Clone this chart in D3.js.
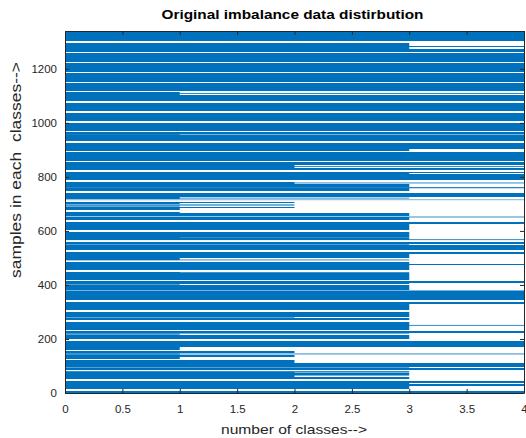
<!DOCTYPE html>
<html>
<head>
<meta charset="utf-8">
<script src="https://cdn.jsdelivr.net/npm/d3@7"></script>
<style>
    body { margin: 0; background: #fff; }
    text { font-family: "Liberation Sans", Arial, Helvetica, sans-serif; }
</style>
</head>
<body>
<svg id="chart" width="526" height="438"></svg>
<script>
// Sample ranges [from, to] whose bars reach each class length
const classes = [1, 2, 3, 4];

const class4Bands = [
    [1303, 1337], [1280, 1286], [1264, 1273], [1227, 1260], [1190, 1222], [1153, 1185],
    [1117, 1148], [1107, 1110], [1080, 1103], [1043, 1075], [1006, 1038], [969, 1001],
    [958, 965], [955, 957], [931, 954], [903, 927], [860, 893], [843, 854], [837, 840],
    [825, 833], [814, 819], [787, 809], [776, 779], [758, 762], [724, 741], [714, 716],
    [650, 653], [624, 633], [566, 569], [553, 559], [529, 549], [514, 522], [472, 477],
    [409, 414], [379, 381], [346, 377], [330, 338], [249, 252], [223, 229], [169, 194],
    [143, 146], [95, 110], [86, 91], [38, 46], [27, 33], [1, 6]
];

const class3Bands = [
    [1286, 1296], [1273, 1280], [896, 903], [809, 814], [762, 774], [749, 758], [720, 723],
    [654, 666], [640, 650], [612, 624], [603, 609], [579, 596], [574, 577], [566, 572],
    [549, 553], [499, 514], [491, 494], [477, 485], [454, 472], [444, 447], [420, 443],
    [404, 409], [383, 401], [309, 330], [283, 301], [272, 279], [234, 264], [220, 223],
    [199, 216], [91, 95], [78, 81], [74, 76], [68, 73], [63, 65], [51, 60], [33, 38], [14, 27]
];

const class2Bands = [
    [833, 843], [774, 781], [703, 708], [694, 698], [685, 690], [279, 283],
    [149, 154], [134, 140], [110, 121], [73, 78], [60, 68]
];

const class1Bands = [
    [1103, 1115], [954, 958], [717, 724], [698, 703], [690, 694], [676, 685], [666, 671],
    [609, 612], [572, 579], [494, 499], [443, 448], [401, 404], [216, 220], [158, 169],
    [146, 149], [140, 143], [125, 134]
];

const xTicks = [0, 0.5, 1, 1.5, 2, 2.5, 3, 3.5, 4];
const yTicks = [0, 200, 400, 600, 800, 1000, 1200];

const bandsByClass = [class1Bands, class2Bands, class3Bands, class4Bands];

const svg = d3.select('#chart');
const plot = { left: 65, right: 524, top: 31, bottom: 393 };
const axisColor = '#262626';
const barColor = '#0072BD';

const x = d3.scaleLinear().domain([0, 4]).range([plot.left, plot.right]);
const y = d3.scaleLinear().domain([0, 1340]).range([plot.bottom, plot.top]);

// Flatten bands into bar records
const bars = [];
classes.forEach((c, i) => {
    bandsByClass[i].forEach(b => bars.push({ cls: c, from: b[0], to: b[1] }));
});

// Snap wider bands to whole pixels so the gaps stay crisp white;
// very thin ones keep fractional edges and come out pale
const edges = d => {
    const top = y(d.to), bottom = y(d.from);
    if (bottom - top < 1.2) return [top, bottom];
    return [Math.round(top), Math.round(bottom)];
};

svg.append('g')
    .selectAll('rect')
    .data(bars)
    .enter()
    .append('rect')
    .attr('x', x(0))
    .attr('width', d => x(d.cls) - x(0))
    .attr('y', d => edges(d)[0])
    .attr('height', d => edges(d)[1] - edges(d)[0])
    .attr('fill', barColor);

// Axes, ticks pointing inward on all four sides
const styleAxis = g => {
    g.selectAll('path, line').attr('stroke', axisColor);
    g.selectAll('text').attr('fill', axisColor).attr('font-size', 11.5);
    g.attr('font-family', null);
};

svg.append('g')
    .attr('transform', `translate(0,${plot.bottom})`)
    .call(d3.axisBottom(x).tickValues(xTicks).tickSizeInner(-4).tickSizeOuter(0).tickPadding(12)
        .tickFormat(d3.format('')))
    .call(styleAxis);

svg.append('g')
    .attr('transform', `translate(0,${plot.top})`)
    .call(d3.axisTop(x).tickValues(xTicks).tickSizeInner(-4).tickSizeOuter(0).tickFormat(''))
    .call(styleAxis);

svg.append('g')
    .attr('transform', `translate(${plot.left},0)`)
    .call(d3.axisLeft(y).tickValues(yTicks).tickSizeInner(-4).tickSizeOuter(0).tickPadding(8)
        .tickFormat(d3.format('')))
    .call(styleAxis);

svg.append('g')
    .attr('transform', `translate(${plot.right},0)`)
    .call(d3.axisRight(y).tickValues(yTicks).tickSizeInner(-4).tickSizeOuter(0).tickFormat(''))
    .call(styleAxis);

// Title and axis labels
svg.append('text')
    .attr('x', 292.5)
    .attr('y', 19)
    .attr('text-anchor', 'middle')
    .attr('font-size', 12.5)
    .attr('font-weight', 'bold')
    .attr('fill', '#000')
    .attr('textLength', 262)
    .attr('lengthAdjust', 'spacingAndGlyphs')
    .text('Original imbalance data distirbution');

svg.append('text')
    .attr('x', 294)
    .attr('y', 433.5)
    .attr('text-anchor', 'middle')
    .attr('font-size', 13)
    .attr('fill', axisColor)
    .attr('textLength', 146)
    .attr('lengthAdjust', 'spacingAndGlyphs')
    .text('number of classes-->');

svg.append('text')
    .attr('transform', 'translate(20.5,170) rotate(-90)')
    .attr('text-anchor', 'middle')
    .attr('font-size', 14)
    .attr('fill', axisColor)
    .attr('textLength', 216)
    .attr('lengthAdjust', 'spacingAndGlyphs')
    .style('white-space', 'pre')
    .text('samples in each  classes-->');
</script>
</body>
</html>
